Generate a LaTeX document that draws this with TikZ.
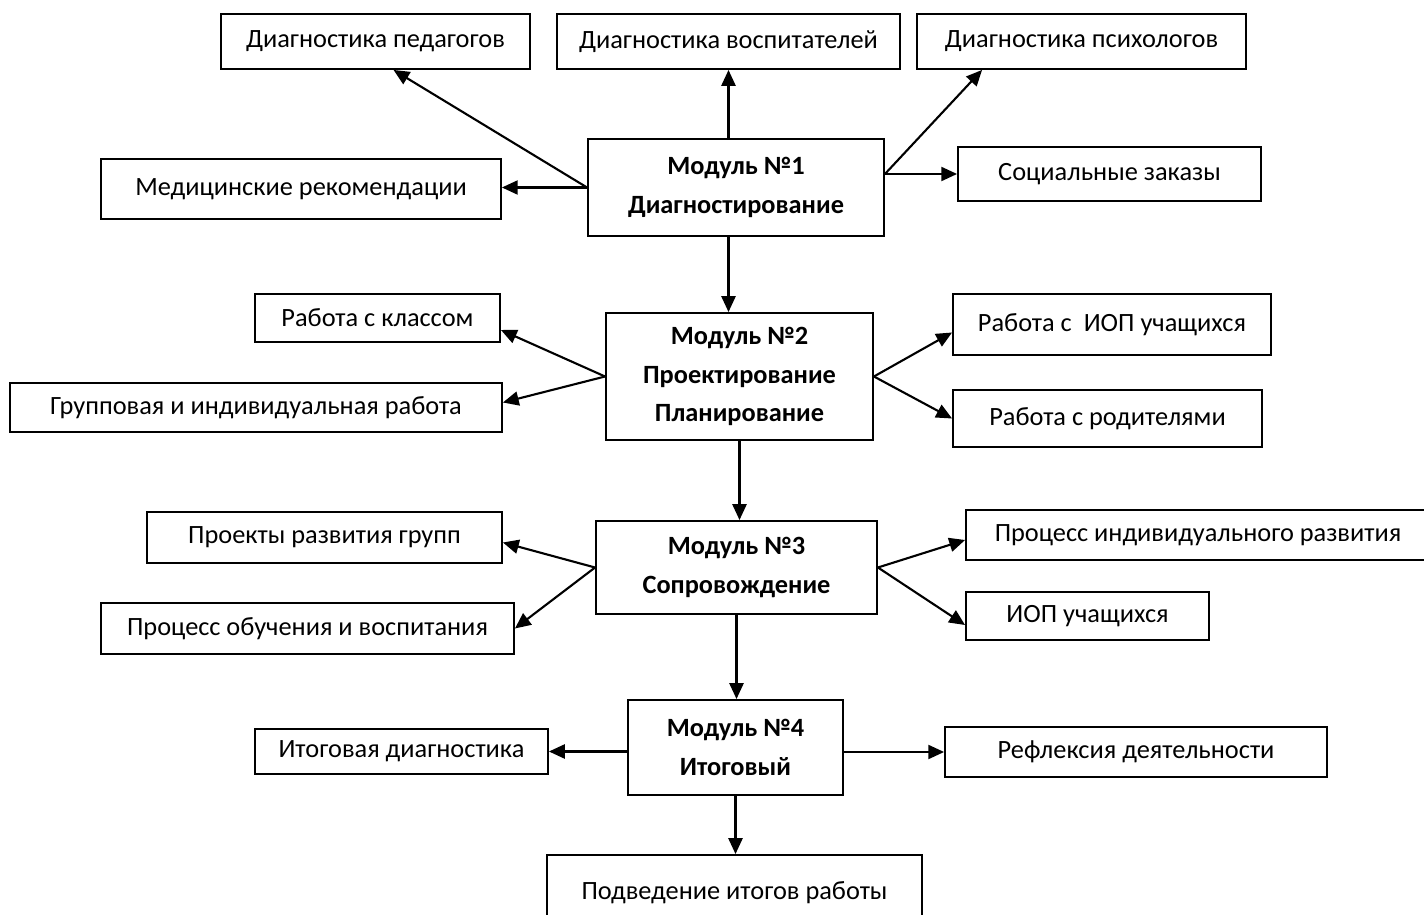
\documentclass[tikz,border=0pt]{standalone}
\usepackage{fontspec}
\setmainfont{Carlito}
\usetikzlibrary{arrows.meta,calc}

\begin{document}
\begin{tikzpicture}[x=0.02cm,y=-0.02cm,
	box/.style={draw,line width=1.1pt,inner sep=2pt,font=\fontsize{15}{18}\selectfont},
	modul/.style={box,align=center,font=\fontsize{15}{22}\selectfont\bfseries},
	link/.style={-{Triangle[length=9pt,width=8pt]},line width=1.2pt}]
\useasboundingbox (0,0) rectangle (1424,915);
\clip (0,0) rectangle (1424,915);
% modules
\node[modul,minimum width=5.92cm,minimum height=1.94cm] (m1) at (736,187.5) {Модуль №1\\Диагностирование};
\node[modul,minimum width=5.34cm,minimum height=2.54cm] (m2) at (739.5,376.5) {Модуль №2\\Проектирование\\Планирование};
\node[modul,minimum width=5.62cm,minimum height=1.86cm] (m3) at (736.5,567.5) {Модуль №3\\Сопровождение};
\node[modul,minimum width=4.3cm,minimum height=1.9cm] (m4) at (735.5,747.5) {Модуль №4\\Итоговый};
% module 1
\node[box,minimum width=6.18cm,minimum height=1.1cm] (ped) at (375.5,41.5) {Диагностика педагогов};
\node[box,minimum width=6.86cm,minimum height=1.1cm] (vosp) at (728.5,41.5) {Диагностика воспитателей};
\node[box,minimum width=6.58cm,minimum height=1.1cm] (psych) at (1081.5,41.5) {Диагностика психологов};
\node[box,minimum width=8cm,minimum height=1.2cm] (med) at (301,189) {Медицинские рекомендации};
\node[box,minimum width=6.06cm,minimum height=1.08cm] (soc) at (1109.5,174) {Социальные заказы};
% module 2
\node[box,minimum width=4.9cm,minimum height=0.96cm] (klass) at (377.5,318) {Работа с классом};
\node[box,minimum width=9.84cm,minimum height=0.98cm] (grupp) at (256,407.5) {Групповая и индивидуальная работа};
\node[box,minimum width=6.36cm,minimum height=1.22cm] (iopw) at (1112,324.5) {Работа с\ \ ИОП учащихся};
\node[box,minimum width=6.18cm,minimum height=1.14cm] (rod) at (1107.5,418.5) {Работа с родителями};
% module 3
\node[box,minimum width=7.1cm,minimum height=1.02cm] (proekt) at (324.5,537.5) {Проекты развития групп};
\node[box,minimum width=8.26cm,minimum height=1.02cm] (obuch) at (307.5,628.5) {Процесс обучения и воспитания};
\node[box,minimum width=9.28cm,minimum height=1cm] (indiv) at (1198,535) {Процесс индивидуального развития};
\node[box,minimum width=4.86cm,minimum height=0.96cm] (iop) at (1087.5,616) {ИОП учащихся};
% module 4
\node[box,minimum width=5.86cm,minimum height=0.9cm] (itog) at (401.5,751.5) {Итоговая диагностика};
\node[box,minimum width=7.64cm,minimum height=1cm] (refl) at (1136,752) {Рефлексия деятельности};
\node[box,minimum width=7.5cm,minimum height=1.52cm] (podv) at (734.5,893) {Подведение итогов работы};
\coordinate (sp) at (m1.south -| vosp.south);
% arrows
\draw[link] (m1.west) -- (m1.west -| med.east);
\draw[link] (m1.west) -- ($(ped.south)+(18,0)$);
\draw[link] (m1.north -| vosp.south) -- (vosp.south);
\draw[link] (m1.east |- soc.west) -- ($(psych.south west)+(66,0)$);
\draw[link] (m1.east |- soc.west) -- (soc.west);
\draw[link] (sp) -- (sp |- m2.north);
\draw[link] (m2.west) -- ($(klass.east)+(0,12)$);
\draw[link] (m2.west) -- ($(grupp.east)+(0,-5)$);
\draw[link] (m2.east) -- ($(iopw.west)+(0,8)$);
\draw[link] (m2.east) -- (rod.west);
\draw[link] (m2.south) -- (m2.south |- m3.north);
\draw[link] (m3.west) -- ($(proekt.east)+(0,5)$);
\draw[link] (m3.west) -- (obuch.east);
\draw[link] (m3.east) -- ($(indiv.west)+(0,5)$);
\draw[link] (m3.east) -- ($(iop.west)+(0,9)$);
\draw[link] (m3.south) -- (m3.south |- m4.north);
\draw[link] (m4.west |- itog.east) -- (itog.east);
\draw[link] (m4.east |- refl.west) -- (refl.west);
\draw[link] (m4.south) -- (m4.south |- podv.north);
\end{tikzpicture}
\end{document}
